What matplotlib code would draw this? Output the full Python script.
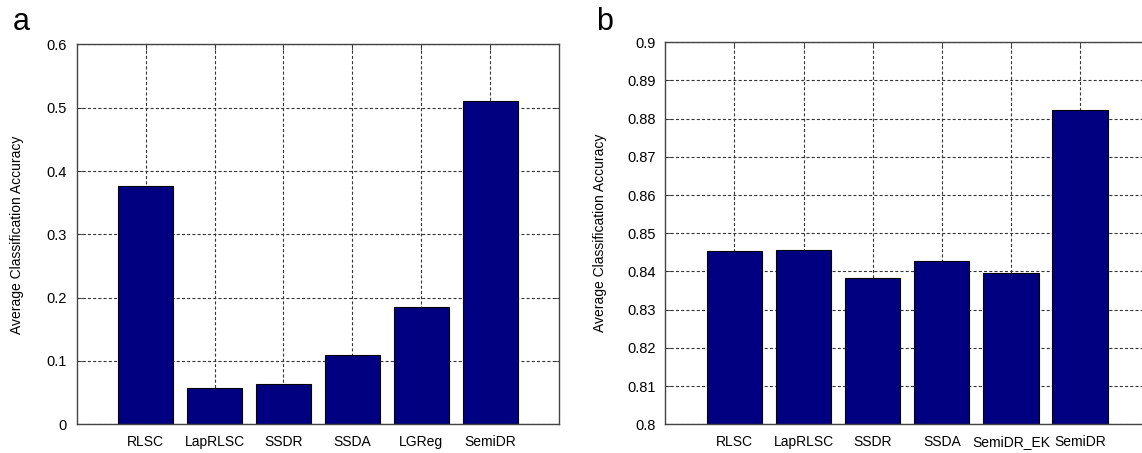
"""Average classification accuracy bar charts, panels a and b."""

import matplotlib as mpl
import numpy as np
from matplotlib import pyplot as plt

mpl.use("Agg")

plt.rcParams["font.family"] = ["Liberation Sans", "DejaVu Sans"]

methods_a = ["RLSC", "LapRLSC", "SSDR", "SSDA", "LGReg", "SemiDR"]
accuracy_a = [0.377, 0.057, 0.063, 0.110, 0.186, 0.511]
yticks_a = [0, 0.1, 0.2, 0.3, 0.4, 0.5, 0.6]
yticklabels_a = ["0", "0.1", "0.2", "0.3", "0.4", "0.5", "0.6"]

methods_b = ["RLSC", "LapRLSC", "SSDR", "SSDA", "SemiDR_EK", "SemiDR"]
accuracy_b = [0.8454, 0.8457, 0.8384, 0.8427, 0.8396, 0.8822]
yticks_b = [0.8, 0.81, 0.82, 0.83, 0.84, 0.85, 0.86, 0.87, 0.88, 0.89, 0.9]
yticklabels_b = ["0.8", "0.81", "0.82", "0.83", "0.84", "0.85",
                 "0.86", "0.87", "0.88", "0.89", "0.9"]

BAR_COLOR = "#000080"
GRID_STYLE = (0, (2.7, 2.0))


def draw_panel(ax, methods, values, yticks, yticklabels, label_x):
    """Draw one MATLAB-style bar panel."""
    positions = np.arange(1, len(methods) + 1)
    ax.bar(positions, values, width=0.8, color=BAR_COLOR,
           edgecolor="black", linewidth=0.8, zorder=2)
    ax.set_xlim(0, len(methods) + 1)
    ax.set_ylim(yticks[0], yticks[-1])
    ax.set_xticks(positions)
    ax.set_xticklabels(methods, fontsize=10)
    ax.set_yticks(yticks)
    ax.set_yticklabels(yticklabels, fontsize=10.5)
    ax.tick_params(direction="in", length=4, width=0.6, color="#333333",
                   top=True, right=True)
    ax.tick_params(axis="y", pad=7)
    ax.tick_params(axis="x", pad=8)
    ax.set_axisbelow(True)
    ax.grid(visible=True, color="#333333", linewidth=0.8,
            linestyle=GRID_STYLE)
    for spine in ax.spines.values():
        spine.set_color("#444444")
        spine.set_linewidth(1.0)
        spine.set_zorder(3)
    ax.set_ylabel("Average Classification Accuracy", fontsize=10)
    ax.yaxis.set_label_coords(label_x, 0.5)


fig = plt.figure(figsize=(11.42, 4.53), dpi=100)
ax_a = fig.add_axes([0.0672, 0.0634, 0.4223, 0.8384])
ax_b = fig.add_axes([0.5826, 0.0634, 0.4236, 0.8433])

draw_panel(ax_a, methods_a, accuracy_a, yticks_a, yticklabels_a, -0.109)
draw_panel(ax_b, methods_b, accuracy_b, yticks_b, yticklabels_b, -0.12)

fig.text(0.011, 1 - 30 / 453, "a", fontsize=22, va="baseline", ha="left")
fig.text(0.522, 1 - 30 / 453, "b", fontsize=22, va="baseline", ha="left")

fig.savefig("out.png", dpi=100)
plt.close(fig)
